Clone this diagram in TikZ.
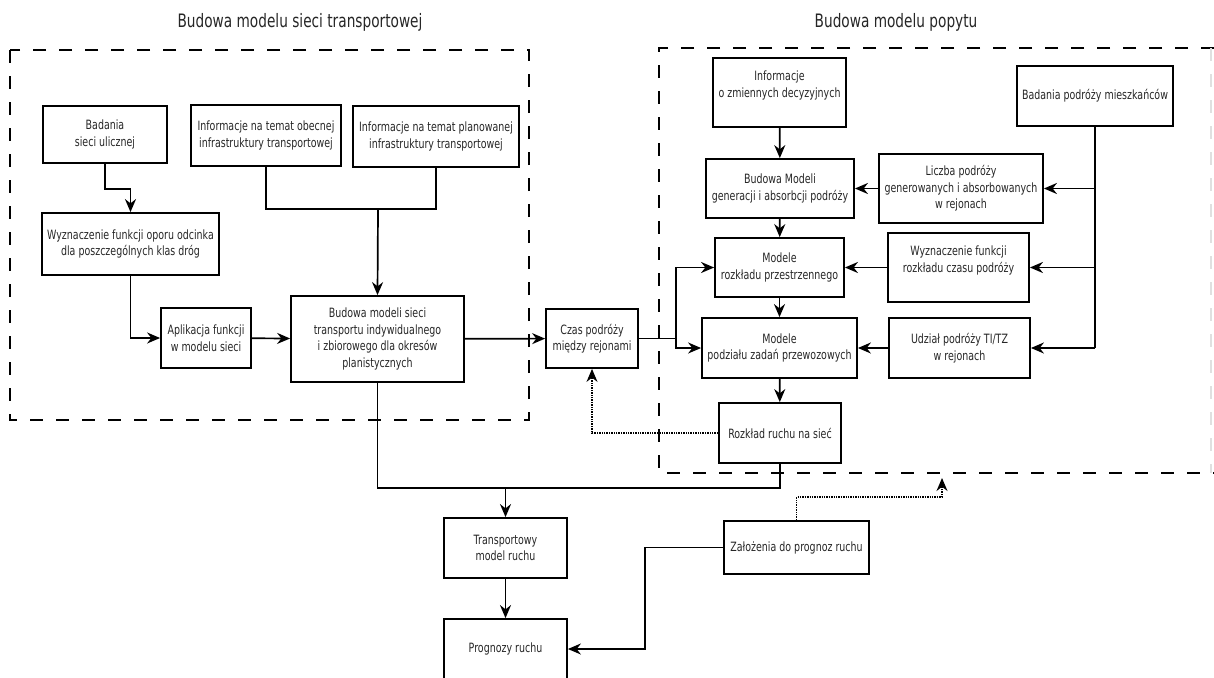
\documentclass[tikz,border=0pt]{standalone}
\usepackage{fontspec}
\setmainfont{DejaVu Sans}[FakeStretch=0.74]
\usetikzlibrary{arrows.meta}
\tikzset{
	blok/.style={
		shape = rectangle,
		draw,
		line width = 1.8pt,
		align = center,
		inner sep = 0pt,
		text = black!85,
		font = \fontsize{12.8}{16.5}\selectfont
	},
	strefa/.style={
		line width = 2pt,
		dash pattern = on 13pt off 13pt
	},
	kropki/.style={
		line width = 1.4pt,
		densely dotted
	},
	tytul/.style={
		text = black!85,
		font = \fontsize{18.5}{20}\selectfont
	},
}
\tikzset{>={Stealth[length=13pt,width=11pt]}}

\begin{document}
\begin{tikzpicture}[x=1pt, y=-1pt, line width=1.7pt]
	\useasboundingbox (0,0) rectangle (1214,677);
	\node[tytul] (t1) at (300,22) {Budowa modelu sieci transportowej};
	\node[tytul] (t2) at (896,22) {Budowa modelu popytu};
	\draw[strefa] (10,50) rectangle (529,420);
	\draw[strefa] (1214,48) -- (659,48) -- (659,473) -- (1214,473);
	\draw[strefa, black!12] (1211,48) -- (1211,473);

	\node[blok, minimum width=124pt, minimum height=57pt] (badS) at (105,134.5) {Badania\\sieci ulicznej};
	\node[blok, minimum width=150pt, minimum height=61pt] (infoOb) at (266,135.5) {Informacje na temat obecnej\\infrastruktury transportowej};
	\node[blok, minimum width=166pt, minimum height=61pt] (infoPl) at (436,136.5) {Informacje na temat planowanej\\infrastruktury transportowej};
	\node[blok, minimum width=177pt, minimum height=62pt] (wyzOp) at (130.5,244) {Wyznaczenie funkcji oporu odcinka\\dla poszczególnych klas dróg};
	\node[blok, minimum width=90pt, minimum height=60pt] (aplik) at (206,338) {Aplikacja funkcji\\w modelu sieci};
	\node[blok, minimum width=173pt, minimum height=86pt] (budSieci) at (377.5,339) {Budowa modeli sieci\\transportu indywidualnego\\i zbiorowego dla okresów\\planistycznych};
	\node[blok, minimum width=92pt, minimum height=59pt] (czas) at (592,338.5) {Czas podróży\\między rejonami};

	\node[blok, minimum width=133pt, minimum height=69pt] (infoZm) at (779.5,92.5) {Informacje\\o zmiennych decyzyjnych\\~};
	\node[blok, minimum width=148pt, minimum height=59pt] (budMod) at (780,188.5) {Budowa Modeli\\generacji i absorbcji podróży};
	\node[blok, minimum width=129pt, minimum height=59pt] (modRozk) at (779.5,267.5) {Modele\\rozkładu przestrzennego};
	\node[blok, minimum width=155pt, minimum height=60pt] (modPodz) at (779.5,348) {Modele\\podziału zadań przewozowych};
	\node[blok, minimum width=122pt, minimum height=60pt] (rozkRuch) at (780,433) {Rozkład ruchu na sieć};
	\node[blok, minimum width=156pt, minimum height=60pt] (badPod) at (1095,96) {Badania podróży mieszkańców};
	\node[blok, minimum width=164pt, minimum height=69pt] (liczba) at (961,188.5) {Liczba podróży\\generowanych i absorbowanych\\w rejonach};
	\node[blok, minimum width=141pt, minimum height=69pt] (wyzRozk) at (958.5,267.5) {Wyznaczenie funkcji\\rozkładu czasu podróży\\~};
	\node[blok, minimum width=141pt, minimum height=60pt] (udzial) at (959.5,348) {Udział podróży TI/TZ\\w rejonach};

	\node[blok, minimum width=123pt, minimum height=60pt] (transp) at (505.5,548) {Transportowy\\model ruchu};
	\node[blok, minimum width=123pt, minimum height=60pt] (prog) at (505.5,649) {Prognozy ruchu};
	\node[blok, minimum width=145pt, minimum height=53pt] (zaloz) at (796.5,547.5) {Założenia do prognoz ruchu};

	\coordinate (laczInfo) at (378,209);
	\coordinate (rozdz) at (676,338.5);
	\coordinate (zbior) at (505.5,488);
	\coordinate (popGrot) at (942,478);

	\draw[->] (badS.south) -- ++(0,25) -| (wyzOp.north);
	\draw[->] (wyzOp.south) |- (aplik.west);
	\draw[->] (aplik) -- (budSieci);
	\draw (infoOb.south) |- (laczInfo) -| (infoPl.south);
	\draw[->] (laczInfo) -- (budSieci.north);
	\draw[->] (budSieci) -- (czas);
	\draw (czas.east) -- (rozdz);
	\draw[->] (rozdz) |- (modRozk.west);
	\draw[->] (rozdz) |- (modPodz.west);

	\draw[->] (infoZm) -- (budMod);
	\draw[->] (budMod) -- (modRozk);
	\draw[->] (modRozk) -- (modPodz);
	\draw[->] (modPodz) -- (rozkRuch);
	\draw (badPod.south) -- (badPod.south |- udzial.east);
	\draw[->] (badPod.south |- liczba.east) -- (liczba.east);
	\draw[->] (badPod.south |- wyzRozk.east) -- (wyzRozk.east);
	\draw[->] (badPod.south |- udzial.east) -- (udzial.east);
	\draw[->] (liczba) -- (budMod);
	\draw[->] (wyzRozk) -- (modRozk);
	\draw[->] (udzial) -- (modPodz);
	\draw[kropki, ->] (rozkRuch.west) -| (czas.south);

	\draw (budSieci.south) |- (rozkRuch.south |- zbior) -- (rozkRuch.south);
	\draw[->] (zbior) -- (transp.north);
	\draw[->] (transp) -- (prog);
	\draw[->] (zaloz.west) -- ++(-78,0) |- (prog.east);
	\draw[kropki, ->] (zaloz.north) -- ++(0,-23) -| (popGrot);
\end{tikzpicture}
\end{document}
